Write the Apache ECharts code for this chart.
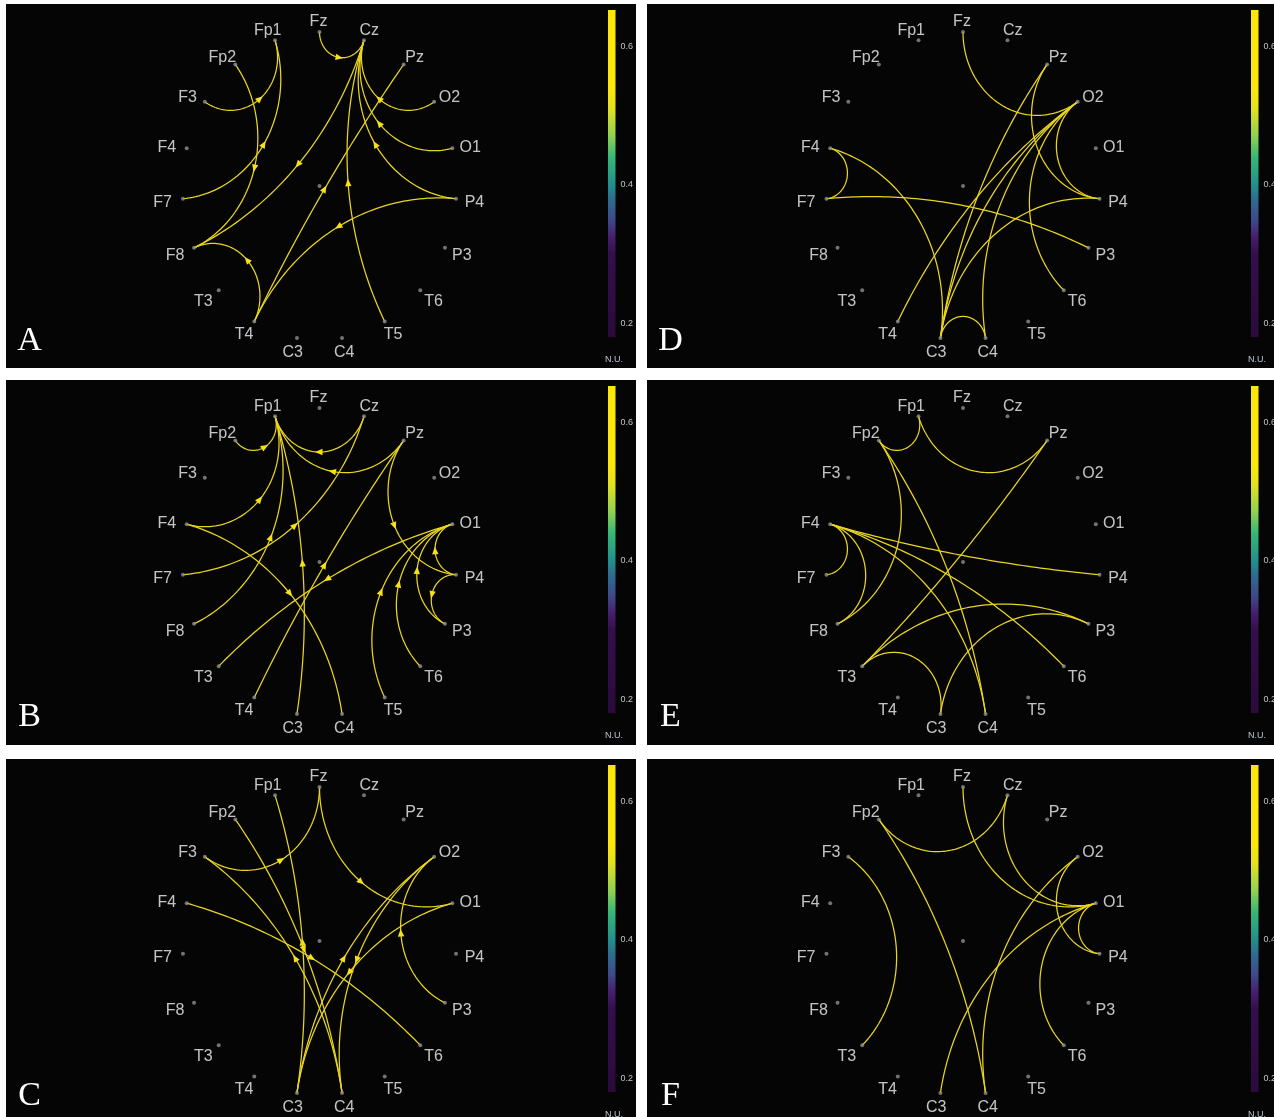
<!DOCTYPE html>
<html>
<head>
<meta charset="utf-8">
<script src="https://cdn.jsdelivr.net/npm/echarts@6/dist/echarts.min.js"></script>
<style>
html,body{margin:0;padding:0;background:#ffffff;}
#chart{width:1274px;height:1117px;}
</style>
</head>
<body>
<div id="chart"></div>
<script>
// ---------- data ----------
// electrodes in circular order, clockwise starting at the top
const electrodes = ['Fz','Cz','Pz','O2','O1','P4','P3','T6','T5','C4','C3','T4','T3','F8','F7','F4','F3','Fp2','Fp1'];
const panelLetters = ['A','B','C','D','E','F'];

// directed links (source -> target)
const edgesA = [['Fz','Cz'],['O2','Cz'],['O1','Cz'],['P4','Cz'],['T5','Cz'],['Cz','F8'],
                ['T4','Pz'],['P4','T4'],['T4','F8'],['F3','Fp1'],['Fp2','F8'],['F7','Fp1']];
const edgesB = [['Fp2','Fp1'],['Cz','Fp1'],['Pz','Fp1'],['F4','Fp1'],['F8','Fp1'],['C3','Fp1'],
                ['F7','Cz'],['T4','Pz'],['O1','T3'],['F4','C4'],['Pz','P4'],['P4','O1'],
                ['P3','O1'],['T6','O1'],['T5','O1'],['P4','P3']];
const edgesC = [['F3','Fz'],['Fz','O1'],['P3','O2'],['C3','O2'],['O1','C3'],['O2','C4'],
                ['C3','Fp1'],['Fp2','C4'],['C4','F3'],['F4','T6']];
// undirected links
const edgesD = [['Fz','O2'],['Pz','P4'],['Pz','C3'],['O2','P4'],['O2','T6'],['O2','T4'],
                ['O2','C3'],['O2','C4'],['F4','F7'],['F4','C3'],['F7','P3'],['C3','C4'],['C3','P4']];
const edgesE = [['Fp1','Fp2'],['Fp1','Pz'],['Pz','T3'],['Fp2','F8'],['Fp2','C4'],['F4','F7'],
                ['F4','F8'],['F4','P4'],['F4','T6'],['F4','C4'],['T3','P3'],['T3','C3'],['C3','P3']];
const edgesF = [['Fp2','Cz'],['Fp2','C4'],['F3','T3'],['Fz','O1'],['Cz','O1'],['O2','P4'],
                ['O1','P4'],['O1','C3'],['O2','C4'],['O1','T6']];

// colour bar (N.U.)
const colorbarRange = [0.18, 0.652];
const colorbarTicks = [0.2, 0.4, 0.6];
const colorbarUnit = 'N.U.';
const colormapStops = [
  [0.18,'#2a0b3c'],[0.30,'#330f4d'],[0.325,'#46206f'],[0.35,'#3e4a8a'],
  [0.38,'#2c6e8e'],[0.40,'#21908c'],[0.44,'#36b877'],[0.47,'#8fd14f'],
  [0.51,'#e3e21f'],[0.54,'#fde70a'],[0.652,'#fde70a']
];

// ---------- layout / style ----------
const EDGE_COLOR = '#ead61f';
const RX = 137, RY = 154;
const panels = [
  {x:6,   y:4,   w:630, h:364, edges:edgesA, directed:true,  col:0},
  {x:6,   y:380, w:630, h:365, edges:edgesB, directed:true,  col:0},
  {x:6,   y:759, w:630, h:358, edges:edgesC, directed:true,  col:0},
  {x:647, y:4,   w:627, h:364, edges:edgesD, directed:false, col:1},
  {x:647, y:380, w:627, h:365, edges:edgesE, directed:false, col:1},
  {x:647, y:759, w:627, h:358, edges:edgesF, directed:false, col:1}
];
const letterOrder = ['A','B','C','D','E','F'];
const colCenterX = [313.5, 316];
const colBarX = [602, 604];

const N = electrodes.length;
function unitPos(i){ const t = i*2*Math.PI/N; return [Math.sin(t), Math.cos(t)]; }
function idx(name){ return electrodes.indexOf(name); }

function makeEdgeRenderer(directed){
  return function(params, api){
    const a = api.value(0), b = api.value(1);
    const P = unitPos(a), Q = unitPos(b);
    const M = [(P[0]+Q[0])/2, (P[1]+Q[1])/2];
    const mLen = Math.hypot(M[0], M[1]);
    const L = Math.hypot(Q[0]-P[0], Q[1]-P[1]);
    const d = 2*Math.asin(Math.min(1, L/2));
    const phi = Math.max(Math.PI - d, 0.0001);
    const pts = [];
    let mid, dirv;
    if (phi < 0.03 || mLen < 1e-9) {
      for (let k=0;k<=1;k++){ pts.push(api.coord(k?Q:P)); }
      const p0 = pts[0], p1 = pts[1];
      mid = [(p0[0]+p1[0])/2,(p0[1]+p1[1])/2];
      dirv = [p1[0]-p0[0], p1[1]-p0[1]];
    } else {
      const bow = [-M[0]/mLen, -M[1]/mLen];           // bulge towards the centre
      const R = (L/2)/Math.sin(phi/2);
      const Oc = [M[0]-bow[0]*R*Math.cos(phi/2), M[1]-bow[1]*R*Math.cos(phi/2)];
      const aP = Math.atan2(P[1]-Oc[1], P[0]-Oc[0]);
      const aQ = Math.atan2(Q[1]-Oc[1], Q[0]-Oc[0]);
      let delta = aQ - aP;
      while (delta > Math.PI) delta -= 2*Math.PI;
      while (delta <= -Math.PI) delta += 2*Math.PI;
      const S = 60;
      for (let k=0;k<=S;k++){
        const ang = aP + delta*k/S;
        pts.push(api.coord([Oc[0]+R*Math.cos(ang), Oc[1]+R*Math.sin(ang)]));
      }
      const ma = aP + delta*0.5;
      mid = api.coord([Oc[0]+R*Math.cos(ma), Oc[1]+R*Math.sin(ma)]);
      const m1 = api.coord([Oc[0]+R*Math.cos(ma-delta*0.01), Oc[1]+R*Math.sin(ma-delta*0.01)]);
      const m2 = api.coord([Oc[0]+R*Math.cos(ma+delta*0.01), Oc[1]+R*Math.sin(ma+delta*0.01)]);
      dirv = [m2[0]-m1[0], m2[1]-m1[1]];
    }
    const children = [{
      type:'polyline', shape:{points:pts},
      style:{stroke:EDGE_COLOR, lineWidth:1.25, fill:null}
    }];
    if (directed){
      const len = Math.hypot(dirv[0], dirv[1]) || 1;
      const u = [dirv[0]/len, dirv[1]/len], n = [-u[1], u[0]];
      const tip = [mid[0]+u[0]*4.5, mid[1]+u[1]*4.5];
      const b1 = [mid[0]-u[0]*3+n[0]*3.2, mid[1]-u[1]*3+n[1]*3.2];
      const b2 = [mid[0]-u[0]*3-n[0]*3.2, mid[1]-u[1]*3-n[1]*3.2];
      children.push({type:'polygon', shape:{points:[tip,b1,b2]}, style:{fill:'#f5e01a', stroke:null}});
    }
    return {type:'group', children};
  };
}

function colorbarRender(params, api){
  const tl = api.coord([0, colorbarRange[1]]);
  const br = api.coord([1, colorbarRange[0]]);
  const span = colorbarRange[1]-colorbarRange[0];
  const stops = colormapStops.map(s => ({offset:(colorbarRange[1]-s[0])/span, color:s[1]})).reverse();
  return {type:'rect', shape:{x:tl[0], y:tl[1], width:br[0]-tl[0], height:br[1]-tl[1]},
          style:{fill:{type:'linear', x:0, y:0, x2:0, y2:1, colorStops:stops, global:false}}};
}

const grids = [], xAxes = [], yAxes = [], series = [], graphics = [];

panels.forEach((p, i) => {
  graphics.push({type:'rect', silent:true, z:-10, shape:{x:p.x, y:p.y, width:p.w, height:p.h}, style:{fill:'#050505'}});
});
panels.forEach((p, i) => {
  const cx = p.x + colCenterX[p.col], cy = p.y + 182;
  grids.push({left:cx-RX, top:cy-RY, width:2*RX, height:2*RY, containLabel:false, outerBoundsMode:'none'});
  xAxes.push({type:'value', gridIndex:i, min:-1, max:1, show:false});
  yAxes.push({type:'value', gridIndex:i, min:-1, max:1, show:false});
});
panels.forEach((p, i) => {
  grids.push({left:p.x + colBarX[p.col], top:p.y + 6, width:7.5, height:327, containLabel:false, outerBoundsMode:'none'});
  xAxes.push({type:'value', gridIndex:6+i, min:0, max:1, show:false});
  yAxes.push({type:'value', gridIndex:6+i, min:colorbarRange[0], max:colorbarRange[1], position:'right',
    axisLine:{show:false}, axisTick:{show:false}, splitLine:{show:false},
    axisLabel:{customValues:colorbarTicks, formatter:(v)=>Number(v).toFixed(1), color:'#c4c4c4', fontSize:9,
               fontFamily:'Liberation Sans, Arial, sans-serif', margin:5}});
});

panels.forEach((p, i) => {
  // links
  series.push({
    type:'custom', coordinateSystem:'cartesian2d', xAxisIndex:i, yAxisIndex:i,
    renderItem: makeEdgeRenderer(p.directed), silent:true, animation:false, z:2,
    data: p.edges.map(e => [idx(e[0]), idx(e[1])])
  });
  // electrodes
  const nodeData = electrodes.map((name, k) => {
    const u = unitPos(k);
    return {name:name, value:u, label:{offset:[19.5*u[0]-1, -12.5*u[1]+2.5]}};
  });
  nodeData.push({name:'', value:[0,0], label:{show:false}});
  series.push({
    type:'scatter', xAxisIndex:i, yAxisIndex:i, symbol:'circle', symbolSize:4,
    itemStyle:{color:'#8e8e8e'}, silent:true, animation:false, z:3,
    label:{show:true, position:'inside', formatter:'{b}', color:'#f4f4f4', fontSize:16,
           fontFamily:'Liberation Sans, Arial, sans-serif', align:'center', verticalAlign:'middle'},
    data: nodeData
  });
  // colour bar
  series.push({
    type:'custom', coordinateSystem:'cartesian2d', xAxisIndex:6+i, yAxisIndex:6+i,
    renderItem: colorbarRender, silent:true, animation:false,
    data: [[0, colorbarRange[0]]]
  });
  graphics.push({type:'text', silent:true, z:5,
    style:{x:p.x + colBarX[p.col] + 6, y:p.y + 356, text:colorbarUnit, fill:'#bcc6d6',
           font:'9px "Liberation Sans", Arial, sans-serif', textAlign:'center', textVerticalAlign:'middle'}});
  graphics.push({type:'text', silent:true, z:5,
    style:{x:p.x + 23.5, y:p.y + 337, text:letterOrder[i], fill:'#ffffff',
           font:'34px "Liberation Serif", "Times New Roman", serif', textAlign:'center', textVerticalAlign:'middle'}});
});

const chart = echarts.init(document.getElementById('chart'), null, {renderer:'canvas'});
chart.setOption({
  backgroundColor:'#ffffff',
  animation:false,
  grid: grids, xAxis: xAxes, yAxis: yAxes,
  graphic: graphics,
  series: series
});
</script>
</body>
</html>
